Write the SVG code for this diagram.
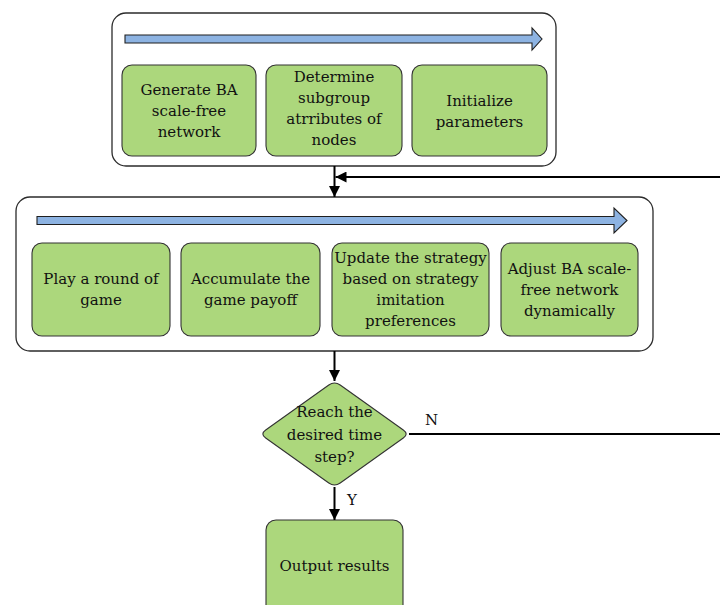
<svg xmlns="http://www.w3.org/2000/svg" width="720" height="605" viewBox="0 0 720 605">
<style>
.container{fill:#ffffff;stroke:#2b2b2b;stroke-width:1.3}
.box{fill:#acd77c;stroke:#333333;stroke-width:1.1}
.band{fill:#8db3e2;stroke:#1f1f1f;stroke-width:1.1}
.t{font-family:"DejaVu Serif","Liberation Serif",serif;font-size:15px;fill:#111111;text-anchor:middle}
.lbl{font-family:"DejaVu Serif","Liberation Serif",serif;font-size:15px;fill:#111111}
.conn{fill:none;stroke:#000000;stroke-width:2}
</style>
<defs>
<marker id="ah" viewBox="0 0 10 10" refX="10" refY="5" markerWidth="5.5" markerHeight="5.5" markerUnits="strokeWidth" orient="auto">
<path d="M0,0 L10,5 L0,10 Z" fill="#000000"/>
</marker>
</defs>
<rect width="720" height="605" fill="#ffffff"/>

<g id="stage1">
<rect class="container" x="112" y="13" width="444" height="153" rx="14"/>
<path class="band" d="M125,35 L532,35 L532,28 L542,39 L532,50 L532,43 L125,43 Z"/>
</g>
<g id="n-generate">
<rect class="box" x="122" y="65" width="134" height="91" rx="10"/>
<text class="t"><tspan x="189" y="95">Generate BA</tspan><tspan x="189" y="116">scale-free</tspan><tspan x="189" y="137">network</tspan></text>
</g>
<g id="n-determine">
<rect class="box" x="266" y="65" width="136" height="91" rx="10"/>
<text class="t"><tspan x="334" y="82">Determine</tspan><tspan x="334" y="103">subgroup</tspan><tspan x="334" y="124">atrributes of</tspan><tspan x="334" y="145">nodes</tspan></text>
</g>
<g id="n-init">
<rect class="box" x="412" y="65" width="135" height="91" rx="10"/>
<text class="t"><tspan x="479.5" y="106">Initialize</tspan><tspan x="479.5" y="127">parameters</tspan></text>
</g>

<g id="stage2">
<rect class="container" x="16" y="197" width="637" height="154" rx="14"/>
<path class="band" d="M37,216.5 L614,216.5 L614,208 L627,220.5 L614,233 L614,224.5 L37,224.5 Z"/>
</g>
<g id="n-play">
<rect class="box" x="32" y="243" width="138" height="93" rx="10"/>
<text class="t"><tspan x="101" y="284">Play a round of</tspan><tspan x="101" y="305">game</tspan></text>
</g>
<g id="n-accumulate">
<rect class="box" x="181" y="243" width="139" height="93" rx="10"/>
<text class="t"><tspan x="250.5" y="284">Accumulate the</tspan><tspan x="250.5" y="305">game payoff</tspan></text>
</g>
<g id="n-update">
<rect class="box" x="332" y="243" width="157" height="93" rx="10"/>
<text class="t"><tspan x="410.5" y="263">Update the strategy</tspan><tspan x="410.5" y="284">based on strategy</tspan><tspan x="410.5" y="305">imitation</tspan><tspan x="410.5" y="326">preferences</tspan></text>
</g>
<g id="n-adjust">
<rect class="box" x="501" y="243" width="137" height="93" rx="10"/>
<text class="t"><tspan x="569.5" y="273.5">Adjust BA scale-</tspan><tspan x="569.5" y="294.5">free network</tspan><tspan x="569.5" y="315.5">dynamically</tspan></text>
</g>

<g id="n-decision">
<path class="box" d="M340.2,385.06 L403.3,429.94 Q409,434 403.3,438.06 L340.2,482.94 Q334.5,487 328.8,482.94 L265.7,438.06 Q260,434 265.7,429.94 L328.8,385.06 Q334.5,381 340.2,385.06 Z"/>
<text class="t"><tspan x="334.5" y="417">Reach the</tspan><tspan x="334.5" y="439.5">desired time</tspan><tspan x="334.5" y="462">step?</tspan></text>
</g>

<g id="n-output">
<rect class="box" x="266" y="520" width="137" height="100" rx="10"/>
<text class="t" x="334.5" y="571">Output results</text>
</g>

<g id="connectors">
<line class="conn" x1="334.5" y1="166" x2="334.5" y2="197" marker-end="url(#ah)"/>
<polyline class="conn" points="409,434 726,434 726,177 335.5,177" marker-end="url(#ah)"/>
<line class="conn" x1="334.5" y1="351" x2="334.5" y2="381" marker-end="url(#ah)"/>
<line class="conn" x1="334.5" y1="487" x2="334.5" y2="520" marker-end="url(#ah)"/>
<text class="lbl" x="425" y="425">N</text>
<text class="lbl" x="347" y="505">Y</text>
</g>
</svg>
